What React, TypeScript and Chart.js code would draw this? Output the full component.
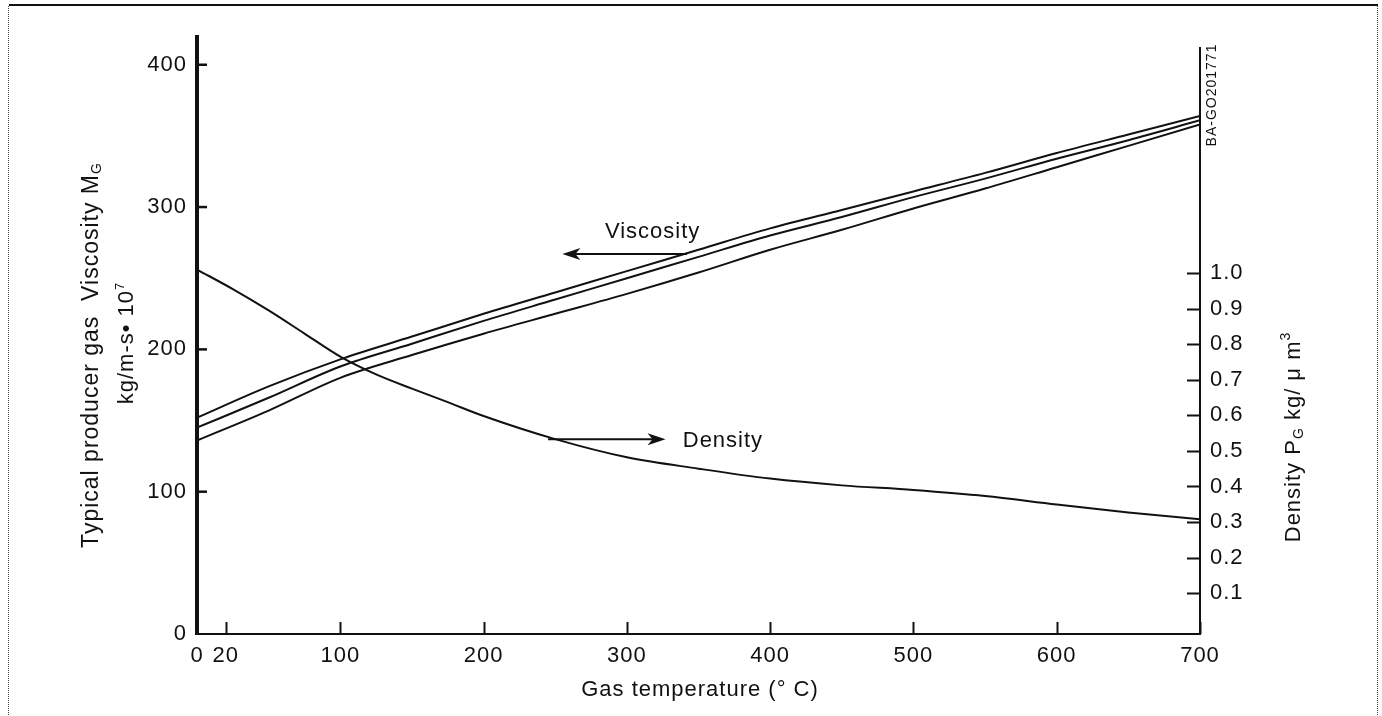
import React, { useEffect, useRef } from "react";
import { Chart, registerables } from "chart.js";

Chart.register(...registerables);

// ---- data ----
const temperatures = [0, 50, 100, 150, 200, 250, 300, 350, 400, 450, 500, 550, 600, 650, 700];
const viscosityUpper = [152, 174, 193, 209, 225, 240, 255, 270, 285, 298, 311, 324, 338, 351, 364];
const viscosityMiddle = [145, 166, 188, 204, 220, 235, 250, 265, 280, 293, 307, 320, 334, 347, 361];
const viscosityLower = [136, 157, 180, 196, 211, 225, 239, 254, 270, 284, 299, 313, 328, 343, 358];
const densityTemperatures = [0, 25, 50, 75, 100, 125, 150, 175, 200, 250, 300, 350, 400, 450, 500, 550, 600, 650, 700];
const densityValues = [1.01, 0.955, 0.895, 0.83, 0.765, 0.715, 0.675, 0.637, 0.598, 0.533, 0.482, 0.45, 0.422, 0.403, 0.39, 0.373, 0.349, 0.327, 0.308];

const xTickValues = [0, 20, 100, 200, 300, 400, 500, 600, 700];
const viscosityTickValues = [0, 100, 200, 300, 400];
const densityTickValues = [0.1, 0.2, 0.3, 0.4, 0.5, 0.6, 0.7, 0.8, 0.9, 1.0];

const FONT = '"Liberation Sans", Arial, Helvetica, sans-serif';
const INK = "#111111";

type Run = { text: string; size: number; dy?: number };

function drawRuns(ctx: CanvasRenderingContext2D, runs: Run[], cx: number, cy: number, angle: number, align: "center" | "left" = "center") {
  ctx.save();
  ctx.translate(cx, cy);
  ctx.rotate(angle);
  ctx.fillStyle = INK;
  ctx.textBaseline = "alphabetic";
  ctx.textAlign = "left";
  let total = 0;
  const widths = runs.map((r) => {
    ctx.font = `${r.size}px ${FONT}`;
    const w = ctx.measureText(r.text).width;
    total += w;
    return w;
  });
  let x = align === "center" ? -total / 2 : 0;
  const base = 8; // baseline offset so the main text is vertically centred
  runs.forEach((r, i) => {
    ctx.font = `${r.size}px ${FONT}`;
    ctx.fillText(r.text, x, base + (r.dy || 0));
    x += widths[i];
  });
  ctx.restore();
}

function arrow(ctx: CanvasRenderingContext2D, x1: number, y: number, x2: number) {
  const dir = Math.sign(x2 - x1);
  ctx.save();
  ctx.strokeStyle = INK;
  ctx.fillStyle = INK;
  ctx.lineWidth = 2;
  ctx.beginPath();
  ctx.moveTo(x1, y);
  ctx.lineTo(x2 - dir * 10, y);
  ctx.stroke();
  ctx.beginPath();
  ctx.moveTo(x2, y);
  ctx.lineTo(x2 - dir * 18, y - 6);
  ctx.lineTo(x2 - dir * 13, y);
  ctx.lineTo(x2 - dir * 18, y + 6);
  ctx.closePath();
  ctx.fill();
  ctx.restore();
}

export default function App() {
  const ref = useRef<HTMLCanvasElement>(null);

  useEffect(() => {
    document.body.style.margin = "0";
    const canvas = ref.current;
    if (!canvas) return;

    const ds = (label: string, xs: number[], ys: number[], axis: string) => ({
      label,
      data: xs.map((t, i) => ({ x: t, y: ys[i] })),
      yAxisID: axis,
      borderColor: INK,
      borderWidth: 2,
      pointRadius: 0,
      cubicInterpolationMode: "monotone" as const,
      fill: false,
    });

    const spacing = (chart: any) => {
      chart.ctx.letterSpacing = "1px";
    };

    const decor = {
      id: "decor",
      beforeUpdate: spacing,
      beforeLayout: spacing,
      beforeDraw: spacing,
      afterDraw(chart: any) {
        const ctx: CanvasRenderingContext2D = chart.ctx;
        const ca = chart.chartArea;
        const sx = chart.scales.x;
        const sy = chart.scales.y;
        const sd = chart.scales.y1;
        ctx.save();
        ctx.letterSpacing = "1px";
        ctx.strokeStyle = INK;

        // page frame
        ctx.lineWidth = 2;
        ctx.beginPath();
        ctx.moveTo(9, 5);
        ctx.lineTo(1378, 5);
        ctx.stroke();
        ctx.lineWidth = 1;
        ctx.setLineDash([1, 1]);
        ctx.strokeStyle = "#444";
        ctx.beginPath();
        ctx.moveTo(8.5, 6);
        ctx.lineTo(8.5, 716);
        ctx.moveTo(1377.5, 6);
        ctx.lineTo(1377.5, 716);
        ctx.stroke();
        ctx.setLineDash([]);
        ctx.strokeStyle = INK;

        // right axis line
        ctx.lineWidth = 2;
        ctx.beginPath();
        ctx.moveTo(ca.right, ca.top + 10);
        ctx.lineTo(ca.right, ca.bottom);
        ctx.stroke();

        // inward tick marks
        xTickValues.forEach((v) => {
          if (v === 0) return;
          const px = Math.round(sx.getPixelForValue(v)) + 0.5;
          ctx.beginPath();
          ctx.moveTo(px, ca.bottom);
          ctx.lineTo(px, ca.bottom - 12);
          ctx.stroke();
        });
        ctx.lineWidth = 2.5;
        viscosityTickValues.forEach((v) => {
          if (v === 0) return;
          const py = sy.getPixelForValue(v);
          ctx.beginPath();
          ctx.moveTo(ca.left, py);
          ctx.lineTo(ca.left + 10, py);
          ctx.stroke();
        });
        ctx.lineWidth = 2;
        densityTickValues.forEach((v) => {
          const py = Math.round(sd.getPixelForValue(v)) + 0.5;
          ctx.beginPath();
          ctx.moveTo(ca.right - 13, py);
          ctx.lineTo(ca.right, py);
          ctx.stroke();
        });

        // axis titles
        drawRuns(ctx, [
          { text: "Typical producer gas  Viscosity M", size: 23 },
          { text: "G", size: 14, dy: 3 },
        ], 90, 355, -Math.PI / 2);
        drawRuns(ctx, [
          { text: "kg/m-s\u2022 10", size: 22 },
          { text: "7", size: 13, dy: -9 },
        ], 125, 343, -Math.PI / 2);
        drawRuns(ctx, [
          { text: "Density P", size: 22 },
          { text: "G", size: 14, dy: 3 },
          { text: " kg/ \u03bc m", size: 22 },
          { text: "3", size: 14, dy: -10 },
        ], 1292, 437, -Math.PI / 2);
        drawRuns(ctx, [{ text: "BA-GO201771", size: 14 }], 1208, 95, -Math.PI / 2);
        drawRuns(ctx, [{ text: "Gas temperature (\u00b0 C)", size: 22 }], 700, 688, 0);

        // annotations (placed in data coordinates)
        drawRuns(ctx, [{ text: "Viscosity", size: 22 }], sx.getPixelForValue(318), sy.getPixelForValue(284), 0);
        arrow(ctx, sx.getPixelForValue(342), sy.getPixelForValue(267), sx.getPixelForValue(255));
        arrow(ctx, sx.getPixelForValue(245), sd.getPixelForValue(0.533), sx.getPixelForValue(327));
        drawRuns(ctx, [{ text: "Density", size: 22 }], sx.getPixelForValue(339), sd.getPixelForValue(0.533), 0, "left");

        ctx.restore();
      },
    };

    const tickFont = { family: FONT, size: 22 };

    const chart = new Chart(canvas, {
      type: "line",
      data: {
        datasets: [
          ds("Viscosity (upper)", temperatures, viscosityUpper, "y"),
          ds("Viscosity (middle)", temperatures, viscosityMiddle, "y"),
          ds("Viscosity (lower)", temperatures, viscosityLower, "y"),
          ds("Density", densityTemperatures, densityValues, "y1"),
        ],
      },
      options: {
        animation: false,
        responsive: false,
        devicePixelRatio: 1,
        layout: { padding: { top: 37, left: 0, right: 0, bottom: 0 } },
        plugins: { legend: { display: false }, tooltip: { enabled: false } },
        scales: {
          x: {
            type: "linear",
            min: 0,
            max: 700,
            grid: { display: false, drawTicks: false },
            border: { display: true, color: INK, width: 2 },
            afterBuildTicks: (s: any) => {
              s.ticks = xTickValues.map((v) => ({ value: v }));
            },
            afterFit: (s: any) => {
              s.height = 82;
            },
            ticks: { color: INK, font: tickFont, padding: 9, maxRotation: 0, autoSkip: false },
          },
          y: {
            type: "linear",
            position: "left",
            min: 0,
            max: 419.5,
            grid: { display: false, drawTicks: false },
            border: { display: true, color: INK, width: 4 },
            afterBuildTicks: (s: any) => {
              s.ticks = viscosityTickValues.map((v) => ({ value: v }));
            },
            afterFit: (s: any) => {
              s.width = 197;
            },
            ticks: { color: INK, font: tickFont, padding: 10 },
          },
          y1: {
            type: "linear",
            position: "right",
            min: -0.015,
            max: 1.664,
            grid: { display: false, drawTicks: false },
            border: { display: false },
            afterBuildTicks: (s: any) => {
              s.ticks = densityTickValues.map((v) => ({ value: v }));
            },
            afterFit: (s: any) => {
              s.width = 182;
            },
            ticks: {
              color: INK,
              font: tickFont,
              padding: 10,
              callback: (v: any) => Number(v).toFixed(1),
            },
          },
        },
      },
      plugins: [decor],
    } as any);

    return () => chart.destroy();
  }, []);

  return (
    <div style={{ width: 1382, height: 716, background: "#fff" }}>
      <canvas ref={ref} width={1382} height={716} style={{ display: "block" }} />
    </div>
  );
}
